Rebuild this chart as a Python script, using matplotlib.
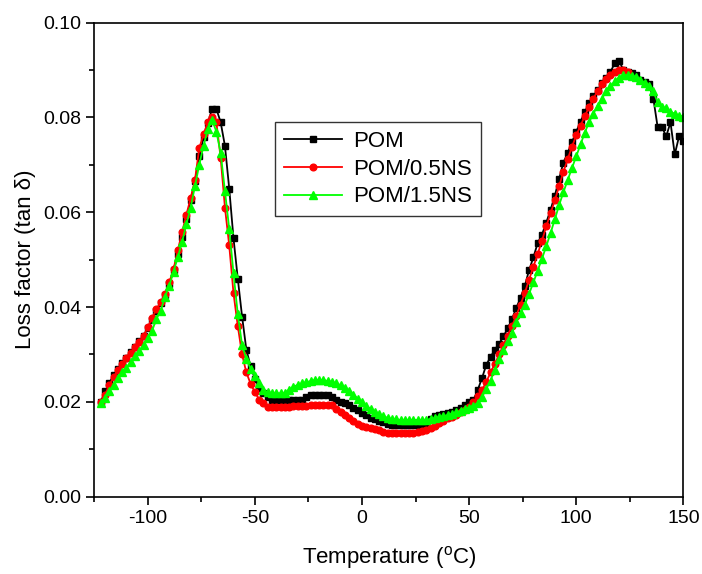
import matplotlib
matplotlib.use('Agg')
import matplotlib.pyplot as plt
from matplotlib.ticker import MultipleLocator, FormatStrFormatter

plt.rcParams['font.family'] = ['Liberation Sans', 'DejaVu Sans']
plt.rcParams['axes.unicode_minus'] = False
plt.rcParams['mathtext.default'] = 'regular'

# temperature grid (deg C)
temp = [-122, -120, -118, -116, -114, -112, -110, -108, -106, -104,
        -102, -100, -98, -96, -94, -92, -90, -88, -86, -84,
        -82, -80, -78, -76, -74, -72, -70, -68, -66, -64,
        -62, -60, -58, -56, -54, -52, -50, -48, -46, -44,
        -42, -40, -38, -36, -34, -32, -30, -28, -26, -24,
        -22, -20, -18, -16, -14, -12, -10, -8, -6, -4,
        -2, 0, 2, 4, 6, 8, 10, 12, 14, 16,
        18, 20, 22, 24, 26, 28, 30, 32, 34, 36,
        38, 40, 42, 44, 46, 48, 50, 52, 54, 56,
        58, 60, 62, 64, 66, 68, 70, 72, 74, 76,
        78, 80, 82, 84, 86, 88, 90, 92, 94, 96,
        98, 100, 102, 104, 106, 108, 110, 112, 114, 116,
        118, 120, 122, 124, 126, 128, 130, 132, 134, 136,
        138, 140, 142, 144, 146, 148, 150]

pom = [0.0200, 0.0222, 0.0240, 0.0256, 0.0270, 0.0281, 0.0293, 0.0305, 0.0316, 0.0328,
       0.0340, 0.0355, 0.0372, 0.0392, 0.0408, 0.0425, 0.0448, 0.0478, 0.0512, 0.0548,
       0.0585, 0.0625, 0.0665, 0.0718, 0.0758, 0.0788, 0.0818, 0.0818, 0.0790, 0.0740,
       0.0650, 0.0545, 0.0460, 0.0380, 0.0310, 0.0275, 0.0248, 0.0230, 0.0218, 0.0210,
       0.0205, 0.0204, 0.0204, 0.0204, 0.0204, 0.0204, 0.0204, 0.0205, 0.0210, 0.0214,
       0.0215, 0.0215, 0.0215, 0.0214, 0.0210, 0.0205, 0.0200, 0.0197, 0.0193, 0.0187,
       0.0182, 0.0177, 0.0172, 0.0167, 0.0163, 0.0160, 0.0157, 0.0154, 0.0152, 0.0151,
       0.0151, 0.0151, 0.0151, 0.0151, 0.0151, 0.0152, 0.0156, 0.0163, 0.0170, 0.0172,
       0.0175, 0.0177, 0.0179, 0.0183, 0.0188, 0.0194, 0.0200, 0.0204, 0.0225, 0.0250,
       0.0278, 0.0295, 0.0310, 0.0323, 0.0338, 0.0355, 0.0375, 0.0398, 0.0420, 0.0445,
       0.0478, 0.0505, 0.0535, 0.0553, 0.0578, 0.0605, 0.0635, 0.0670, 0.0705, 0.0725,
       0.0748, 0.0770, 0.0791, 0.0812, 0.0830, 0.0845, 0.0858, 0.0872, 0.0884, 0.0896,
       0.0915, 0.0920, 0.0900, 0.0895, 0.0893, 0.0890, 0.0880, 0.0875, 0.0870, 0.0840,
       0.0780, 0.0780, 0.0760, 0.0790, 0.0722, 0.0760, 0.0750]

pom_05ns = [0.0200, 0.0215, 0.0235, 0.0252, 0.0267, 0.0280, 0.0292, 0.0304, 0.0315, 0.0327,
            0.0340, 0.0357, 0.0378, 0.0395, 0.0410, 0.0428, 0.0452, 0.0480, 0.0520, 0.0558,
            0.0595, 0.0630, 0.0668, 0.0735, 0.0765, 0.0790, 0.0802, 0.0790, 0.0715, 0.0610,
            0.0530, 0.0429, 0.0360, 0.0300, 0.0262, 0.0238, 0.0220, 0.0205, 0.0197, 0.0190,
            0.0190, 0.0190, 0.0190, 0.0190, 0.0190, 0.0191, 0.0192, 0.0192, 0.0192, 0.0193,
            0.0193, 0.0193, 0.0193, 0.0193, 0.0193, 0.0186, 0.0179, 0.0172, 0.0166, 0.0160,
            0.0154, 0.0150, 0.0148, 0.0145, 0.0143, 0.0140, 0.0136, 0.0134, 0.0134, 0.0134,
            0.0134, 0.0134, 0.0134, 0.0135, 0.0136, 0.0138, 0.0141, 0.0145, 0.0150, 0.0155,
            0.0160, 0.0165, 0.0169, 0.0173, 0.0178, 0.0183, 0.0190, 0.0200, 0.0212, 0.0225,
            0.0242, 0.0262, 0.0280, 0.0300, 0.0320, 0.0340, 0.0360, 0.0382, 0.0405, 0.0430,
            0.0458, 0.0485, 0.0512, 0.0540, 0.0570, 0.0598, 0.0625, 0.0655, 0.0685, 0.0712,
            0.0738, 0.0762, 0.0783, 0.0803, 0.0822, 0.0840, 0.0856, 0.0870, 0.0882, 0.0890,
            0.0896, 0.0900, 0.0900, 0.0895]

pom_15ns = [0.0198, 0.0208, 0.0222, 0.0236, 0.0250, 0.0262, 0.0272, 0.0284, 0.0296, 0.0308,
            0.0320, 0.0334, 0.0350, 0.0375, 0.0392, 0.0422, 0.0445, 0.0475, 0.0505, 0.0538,
            0.0575, 0.0610, 0.0655, 0.0700, 0.0740, 0.0775, 0.0795, 0.0770, 0.0725, 0.0645,
            0.0565, 0.0471, 0.0385, 0.0320, 0.0290, 0.0270, 0.0255, 0.0240, 0.0225, 0.0220,
            0.0218, 0.0218, 0.0218, 0.0219, 0.0226, 0.0232, 0.0236, 0.0239, 0.0241, 0.0244,
            0.0246, 0.0246, 0.0246, 0.0244, 0.0242, 0.0239, 0.0235, 0.0229, 0.0223, 0.0215,
            0.0207, 0.0199, 0.0192, 0.0185, 0.0178, 0.0174, 0.0170, 0.0166, 0.0164, 0.0163,
            0.0162, 0.0162, 0.0162, 0.0162, 0.0162, 0.0162, 0.0162, 0.0164, 0.0166, 0.0168,
            0.0170, 0.0172, 0.0175, 0.0178, 0.0181, 0.0184, 0.0188, 0.0192, 0.0198, 0.0210,
            0.0228, 0.0245, 0.0268, 0.0290, 0.0310, 0.0328, 0.0345, 0.0368, 0.0388, 0.0405,
            0.0428, 0.0452, 0.0477, 0.0502, 0.0528, 0.0556, 0.0585, 0.0615, 0.0642, 0.0668,
            0.0693, 0.0718, 0.0743, 0.0768, 0.0790, 0.0808, 0.0825, 0.0840, 0.0855, 0.0866,
            0.0876, 0.0884, 0.0889, 0.0890, 0.0888, 0.0885, 0.0880, 0.0873, 0.0866, 0.0855,
            0.0832, 0.0822, 0.0820, 0.0812, 0.0808, 0.0804, 0.0802]

labels = ['POM', 'POM/0.5NS', 'POM/1.5NS']

fig = plt.figure(figsize=(7.02, 5.74), dpi=100)
ax = fig.add_axes([0.1343, 0.1347, 0.8391, 0.8258])

ax.plot(temp, pom, color='black', marker='s', markersize=4.6, lw=1.3, label=labels[0])
ax.plot(temp[:len(pom_05ns)], pom_05ns, color='red', marker='o', markersize=4.8, lw=1.3,
        label=labels[1])
ax.plot(temp, pom_15ns, color='#00ff00', marker='^', markersize=5.2, lw=1.3, label=labels[2])

ax.set_xlim(-125, 150)
ax.set_ylim(0, 0.10)
ax.xaxis.set_major_locator(MultipleLocator(50))
ax.xaxis.set_minor_locator(MultipleLocator(25))
ax.yaxis.set_major_locator(MultipleLocator(0.02))
ax.yaxis.set_minor_locator(MultipleLocator(0.01))
ax.yaxis.set_major_formatter(FormatStrFormatter('%.2f'))
ax.tick_params(which='major', direction='out', length=6, width=1.2, labelsize=14)
ax.tick_params(which='minor', direction='out', length=3.5, width=1.2)
for s in ax.spines.values():
    s.set_linewidth(1.2)

ax.set_xlabel('Temperature ($^{o}$C)', fontsize=16, labelpad=12)
ax.set_ylabel('Loss factor (tan δ)', fontsize=16, labelpad=5)

leg = ax.legend(loc='upper left', bbox_to_anchor=(0.307, 0.79), fontsize=16,
                frameon=True, fancybox=False, edgecolor='black', handlelength=2.6,
                borderpad=0.4, labelspacing=0.3, handletextpad=0.5, borderaxespad=0)
leg.get_frame().set_linewidth(1.0)

fig.savefig('out.png', dpi=100)
